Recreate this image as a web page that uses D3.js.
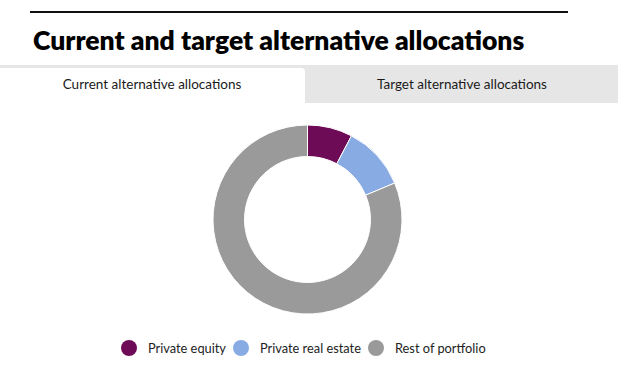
<!DOCTYPE html>
<html>
<head>
<meta charset="utf-8">
<script src="https://cdn.jsdelivr.net/npm/d3@7"></script>
<style>
  body { margin: 0; background: #fff; }
  svg { display: block; font-family: Lato, "Open Sans", sans-serif; }
</style>
</head>
<body>
<div id="chart"></div>
<script>
// chart data
const categories = ["Private equity", "Private real estate", "Rest of portfolio"];
const values = [7.7, 11.0, 81.3];
const colors = ["#6e0b56", "#88abe3", "#9a9a9a"];
const tabs = ["Current alternative allocations", "Target alternative allocations"];

const width = 618, height = 375;

const svg = d3.select("#chart")
  .append("svg")
  .attr("width", width)
  .attr("height", height);

// top rule and title
svg.append("rect")
  .attr("x", 30).attr("y", 11)
  .attr("width", 538).attr("height", 2)
  .attr("fill", "#111");

svg.append("text")
  .attr("x", 33).attr("y", 50)
  .attr("font-size", 26.5)
  .attr("font-weight", 800)
  .attr("fill", "#000")
  .text("Current and target alternative allocations");

// tabs
svg.append("rect")
  .attr("x", 0).attr("y", 65)
  .attr("width", width).attr("height", 38)
  .attr("fill", "#e6e6e6");

svg.append("path")
  .attr("d", "M0,103 V68 H301 Q305,68 305,72 V103 Z")
  .attr("fill", "#fff");

const tabX = d3.scalePoint().domain(tabs).range([152, 462]);

svg.selectAll(".tab")
  .data(tabs)
  .enter()
  .append("text")
  .attr("class", "tab")
  .attr("x", d => tabX(d))
  .attr("y", 89)
  .attr("text-anchor", "middle")
  .attr("font-size", 13.5)
  .attr("fill", "#1a1a1a")
  .text(d => d);

// donut
const cx = 307.5, cy = 219.5, outerR = 94.5, innerR = 63;

const pie = d3.pie().sort(null).value(d => d);
const arc = d3.arc().innerRadius(innerR).outerRadius(outerR);

svg.append("g")
  .attr("transform", `translate(${cx},${cy})`)
  .selectAll("path")
  .data(pie(values))
  .enter()
  .append("path")
  .attr("d", arc)
  .attr("fill", (d, i) => colors[i])
  .attr("stroke", "#fff")
  .attr("stroke-width", 1);

// legend
const legendX = [129, 241, 376];
const legend = svg.append("g")
  .selectAll("g")
  .data(categories)
  .enter()
  .append("g")
  .attr("transform", (d, i) => `translate(${legendX[i]},348)`);

legend.append("circle")
  .attr("r", 8)
  .attr("fill", (d, i) => colors[i]);

legend.append("text")
  .attr("x", 19)
  .attr("y", 5)
  .attr("font-size", 12.8)
  .attr("fill", "#222")
  .text(d => d);
</script>
</body>
</html>
